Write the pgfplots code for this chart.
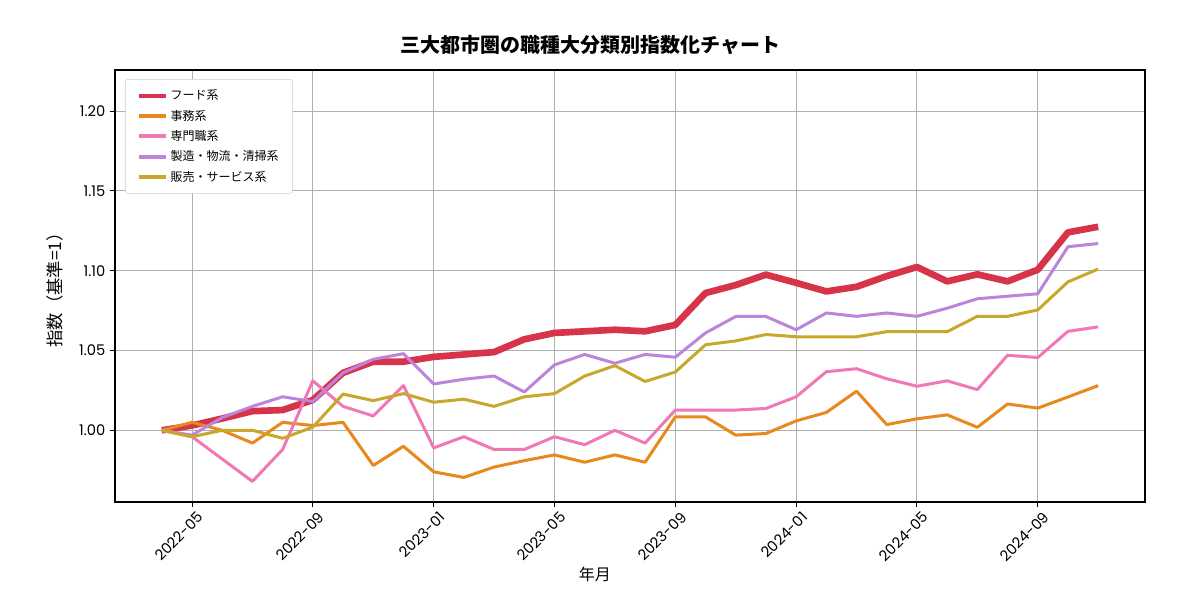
\documentclass[border=0pt]{standalone}
\usepackage{fontspec}
\setmainfont{Poppins}
\newfontfamily\cjk{Noto Sans CJK JP}
\usepackage{pgfplots}
\usepackage{pgfplotstable}
\pgfplotsset{compat=1.18}
\definecolor{cfood}{HTML}{D7344A}
\definecolor{coffice}{HTML}{E8891E}
\definecolor{cpro}{HTML}{F178B6}
\definecolor{cmfg}{HTML}{BC84DA}
\definecolor{csales}{HTML}{C8A82C}
\pgfplotstableread{
i food office pro mfg sales
0 1.000 1.000 1.000 1.000 1.000
1 1.003 1.005 0.996 0.997 0.996
2 1.0074 1.000 0.982 1.008 1.000
3 1.012 0.992 0.968 1.015 1.000
4 1.0127 1.005 0.988 1.021 0.995
5 1.019 1.003 1.031 1.018 1.002
6 1.036 1.005 1.015 1.036 1.0227
7 1.043 0.978 1.009 1.0445 1.0186
8 1.043 0.990 1.028 1.048 1.023
9 1.046 0.974 0.989 1.029 1.0176
10 1.0475 0.9705 0.996 1.032 1.0195
11 1.049 0.977 0.988 1.034 1.015
12 1.057 0.981 0.988 1.024 1.021
13 1.061 0.9846 0.996 1.041 1.023
14 1.062 0.980 0.991 1.0475 1.034
15 1.063 0.9846 1.000 1.042 1.0405
16 1.062 0.980 0.992 1.0475 1.0306
17 1.066 1.0084 1.0127 1.0458 1.0365
18 1.086 1.0084 1.0127 1.061 1.0536
19 1.091 0.997 1.0127 1.0713 1.056
20 1.0975 0.998 1.0137 1.0713 1.060
21 1.0924 1.0059 1.021 1.063 1.0586
22 1.087 1.0112 1.0367 1.0735 1.0586
23 1.0899 1.0245 1.0386 1.0714 1.0586
24 1.0966 1.0036 1.0323 1.0735 1.0618
25 1.1023 1.0072 1.0276 1.0714 1.0618
26 1.0933 1.0097 1.031 1.0765 1.0618
27 1.0977 1.0019 1.0255 1.0824 1.0714
28 1.0933 1.0165 1.047 1.084 1.0714
29 1.1006 1.0139 1.0456 1.0855 1.0754
30 1.124 1.0209 1.062 1.115 1.093
31 1.1275 1.028 1.0648 1.117 1.101
}\datatable
\begin{document}
\begin{tikzpicture}
\useasboundingbox (0,0) rectangle (900pt,450pt);
\node[font=\cjk\bfseries\fontsize{15}{18}\selectfont] at (443pt,416pt) {三大都市圏の職種大分類別指数化チャート};
\begin{axis}[
  at={(86.25pt,73.5pt)}, anchor=south west, scale only axis,
  width=772.5pt, height=324pt,
  xmin=-1.55, xmax=32.55, ymin=0.9551, ymax=1.2257,
  xtick={1,5,9,13,17,21,25,29},
  xticklabels={2022-05,2022-09,2023-01,2023-05,2023-09,2024-01,2024-05,2024-09},
  ytick={1.00,1.05,1.10,1.15,1.20},
  yticklabel style={/pgf/number format/.cd, fixed, fixed zerofill, precision=2},
  /pgf/number format/assume math mode=true,
  ticklabel style={font=\fontsize{11}{13}\selectfont},
  xticklabel style={rotate=45, anchor=north east, xshift=4pt, yshift=-1pt},
  grid=major, major grid style={color=black!31, line width=0.75pt},
  tick style={black, line width=0.75pt}, major tick length=3.75pt, tick align=outside,
  tick pos=left,
  axis line style={line width=0.85pt},
  xlabel={年月}, ylabel={指数（基準=1）},
  label style={font=\cjk\fontsize{12}{14}\selectfont},
  xlabel style={at={(axis description cs:0.466,-0.168)}, anchor=center},
  ylabel style={at={(axis description cs:-0.058,0.5)}, anchor=center, font=\cjk\fontsize{13}{15}\selectfont},
  legend style={at={(0.0097,0.979)}, anchor=north west, draw=black!20, rounded corners=2pt,
    font=\cjk\fontsize{9}{10.5}\selectfont, row sep=2.2pt, inner xsep=8.5pt, inner ysep=5.8pt,
    /tikz/every even column/.append style={column sep=0pt}},
  legend cell align=left,
  legend image post style={line width=3pt},
  legend image code/.code={\draw[#1,line width=3pt] (0pt,0pt) -- (17pt,0pt); \path (0pt,0pt) -- (20.5pt,0pt);},
]
\addplot[cfood, line width=5pt, line join=round, legend image post style={line width=3pt}] table[x=i,y=food]{\datatable};
\addlegendentry{フード系}
\addplot[coffice, line width=2.25pt, line join=round] table[x=i,y=office]{\datatable};
\addlegendentry{事務系}
\addplot[cpro, line width=2.25pt, line join=round] table[x=i,y=pro]{\datatable};
\addlegendentry{専門職系}
\addplot[cmfg, line width=2.25pt, line join=round] table[x=i,y=mfg]{\datatable};
\addlegendentry{製造・物流・清掃系}
\addplot[csales, line width=2.25pt, line join=round] table[x=i,y=sales]{\datatable};
\addlegendentry{販売・サービス系}
\end{axis}
\end{tikzpicture}
\end{document}
